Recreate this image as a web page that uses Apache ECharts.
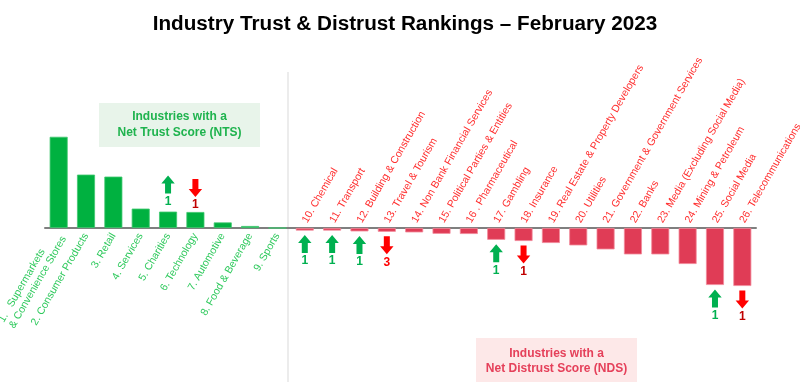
<!DOCTYPE html>
<html>
<head>
<meta charset="utf-8">
<script src="https://cdn.jsdelivr.net/npm/echarts@6/dist/echarts.min.js"></script>
<style>html,body{margin:0;padding:0;background:#fff;}#c{width:800px;height:382px;}</style>
</head>
<body>
<div id="c"></div>
<script>
const categories = [
  '1.   Supermarkets\n& Convenience Stores', '2. Consumer Products', '3. Retail', '4. Services',
  '5. Charities', '6. Technology', '7. Automotive', '8. Food & Beverage', '9. Sports',
  '10. Chemical', '11. Transport', '12. Building & Construction', '13. Travel & Tourism',
  '14. Non Bank Financial Services', '15. Political Parties & Entities', '16 . Pharmaceutical',
  '17. Gambling', '18. Insurance', '19. Real Estate & Property Developers', '20. Utilities',
  '21. Government & Government Services', '22. Banks', '23. Media (Excluding Social Media)',
  '24. Mining & Petroleum', '25. Social Media', '26. Telecommunications'
];
const netScores = [45.6, 26.7, 25.7, 9.7, 8.2, 8.0, 2.8, 1.0, 0,
  -1.3, -1.3, -1.7, -1.9, -2.2, -2.9, -3.0, -5.9, -6.5, -7.5, -8.7, -10.7, -13.2, -13.2, -18.0, -28.5, -29.0];
const rankChanges = [0, 0, 0, 0, 1, -1, 0, 0, 0,
  1, 1, 1, -3, 0, 0, 0, 1, -1, 0, 0, 0, 0, 0, 0, 1, -1];
const NTS_COUNT = 9;

const Y_MIN = -50, Y_MAX = 50;
const GRID = { left: 45, right: 44, top: 128, bottom: 54 };
const GRID_H = 382 - GRID.top - GRID.bottom;
// distance from grid edges to the zero line, so both label rows sit on the zero line
const zeroFromTop = GRID_H * (Y_MAX - 0) / (Y_MAX - Y_MIN);
const zeroFromBottom = GRID_H - zeroFromTop;

const chart = echarts.init(document.getElementById('c'));
const FONT = 'Liberation Sans, Arial, sans-serif';

const barData = netScores.map(v => ({
  value: v,
  itemStyle: v >= 0 ? { color: '#00b140', borderColor: '#40c870' } : { color: '#e03c56', borderColor: '#f28a9a' }
}));
const arrowData = netScores.map((v, i) => [i, v, rankChanges[i]]);

chart.setOption({
  animation: false,
  title: {
    text: 'Industry Trust & Distrust Rankings \u2013 February 2023',
    left: 400, top: 9, textAlign: 'center',
    textStyle: { fontFamily: FONT, fontSize: 20.7, fontWeight: 'bold', color: '#000' }
  },
  grid: Object.assign({ containLabel: false, outerBoundsMode: 'none' }, GRID),
  xAxis: [{
    type: 'category', data: categories, position: 'bottom', offset: -zeroFromBottom,
    axisLine: { onZero: false, lineStyle: { color: '#7f7f7f', width: 2 } },
    axisTick: { show: false },
    axisLabel: {
      interval: 0, rotate: 60, margin: 6, fontFamily: FONT, fontSize: 10.5, color: '#2ec95c', lineHeight: 12,
      formatter: (v, i) => i < NTS_COUNT ? v.split('\n').map(s => '{l|' + s + '}').join('\n') : '',
      rich: { l: { align: 'left', fontFamily: FONT, fontSize: 10.5, color: '#2ec95c', lineHeight: 12 } }
    }
  }, {
    type: 'category', data: categories, position: 'top', offset: -zeroFromTop,
    axisLine: { show: false, onZero: false },
    axisTick: { show: false },
    axisLabel: {
      interval: 0, rotate: -60, margin: 6, fontFamily: FONT, fontSize: 10.5, color: '#ff2e2e',
      formatter: (v, i) => i >= NTS_COUNT ? v : ''
    }
  }],
  yAxis: { type: 'value', min: Y_MIN, max: Y_MAX, show: false, splitLine: { show: false } },
  series: [{
    type: 'bar', xAxisIndex: 0, barWidth: 18,
    data: barData,
    itemStyle: { borderWidth: 0.8 }
  }, {
    type: 'custom', xAxisIndex: 0, data: arrowData, z: 5,
    renderItem: (params, api) => {
      const ch = api.value(2);
      if (!ch) return;
      const val = api.value(1);
      const p = api.coord([api.value(0), val]);
      const up = ch > 0;
      const cx = p[0];
      let top;
      if (val >= 0) top = p[1] - 36 + (up ? 0 : 3);
      else top = p[1] + 4.5;
      const hw = 6.7, sw = 3, hh = 8, h = 18;
      let pts;
      if (up) {
        pts = [[cx, top], [cx + hw, top + hh], [cx + sw, top + hh], [cx + sw, top + h], [cx - sw, top + h], [cx - sw, top + hh], [cx - hw, top + hh]];
      } else {
        pts = [[cx - sw, top], [cx + sw, top], [cx + sw, top + h - hh], [cx + hw, top + h - hh], [cx, top + h], [cx - hw, top + h - hh], [cx - sw, top + h - hh]];
      }
      const color = up ? '#00b050' : '#ff0000';
      const tcolor = up ? '#00b050' : (Math.abs(ch) > 1 ? '#ff0000' : '#c00000');
      return {
        type: 'group',
        children: [
          { type: 'polygon', shape: { points: pts }, style: { fill: color } },
          { type: 'text', style: { text: String(Math.abs(ch)), x: cx, y: top + 26, align: 'center', verticalAlign: 'middle',
            font: 'bold 12px ' + FONT, fill: tcolor } }
        ]
      };
    }
  }],
  graphic: [
    { type: 'line', shape: { x1: 288, y1: 72, x2: 288, y2: 382 }, style: { stroke: '#d9d9d9', lineWidth: 1 }, silent: true },
    { type: 'rect', shape: { x: 99, y: 103, width: 161, height: 44 }, style: { fill: '#e8f4ea' } },
    { type: 'text', x: 179.5, y: 125, style: { text: 'Industries with a\nNet Trust Score (NTS)', align: 'center', verticalAlign: 'middle',
      font: 'bold 12px ' + FONT, fill: '#1fb34e', lineHeight: 16 } },
    { type: 'rect', shape: { x: 476, y: 338, width: 161, height: 44 }, style: { fill: '#fde8e8' } },
    { type: 'text', x: 556.5, y: 361, style: { text: 'Industries with a\nNet Distrust Score (NDS)', align: 'center', verticalAlign: 'middle',
      font: 'bold 12px ' + FONT, fill: '#e5405a', lineHeight: 15 } }
  ]
});
</script>
</body>
</html>
